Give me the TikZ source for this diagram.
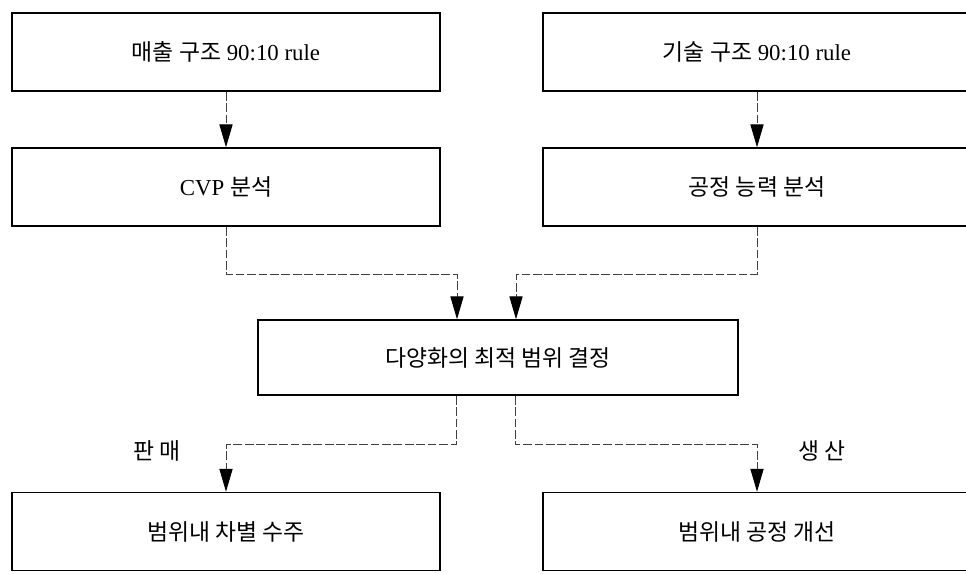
\documentclass[tikz,border=0pt]{standalone}
\usepackage{fontspec}
\setmainfont{Liberation Serif}
\newfontfamily\kr{Noto Sans CJK KR}
\usetikzlibrary{shapes, arrows.meta}
\tikzstyle{block} = [rectangle, minimum width=8.56cm, minimum height=1.56cm, text centered, draw=black, line width=0.9pt, font=\fontsize{13}{15}\selectfont]
\tikzstyle{mainbox} = [rectangle, minimum width=9.6cm, minimum height=1.5cm, text centered, draw=black, line width=0.9pt, font=\fontsize{13}{15}\selectfont]
\tikzstyle{tag} = [font=\kr\fontsize{13}{15}\selectfont]
\tikzstyle{edge} = [line width=0.5pt, draw=black!75, dash pattern=on 5pt off 1.5pt, -{Triangle[length=13pt, width=7.5pt, color=black]}]

\begin{document}
\begin{tikzpicture}[node distance=2.7cm]
\useasboundingbox (-4.52,1.04) rectangle (14.8,-10.42);

\node (sales) [block] {{\kr 매출 구조} 90:10 rule};
\node (tech) [block, right of=sales, xshift=7.92cm] {{\kr 기술 구조} 90:10 rule};
\node (cvp) [block, below of=sales] {CVP {\kr 분석}};
\node (cap) [block, below of=tech] {\kr 공정 능력 분석};
\node (range) [mainbox, below of=cvp, xshift=5.44cm, yshift=-0.71cm] {\kr 다양화의 최적 범위 결정};
\node (order) [block, below of=range, xshift=-5.44cm, yshift=-0.78cm] {\kr 범위내 차별 수주};
\node (improve) [block, below of=range, xshift=5.18cm, yshift=-0.78cm] {\kr 범위내 공정 개선};
\node (sell) [tag, above of=order, xshift=-1.38cm, yshift=-1.09cm] {판 매};
\node (make) [tag, above of=improve, xshift=1.3cm, yshift=-1.09cm] {생 산};

\coordinate (j1) at ([xshift=-0.82cm, yshift=0.9cm]range.north);
\coordinate (j2) at ([xshift=0.36cm, yshift=0.9cm]range.north);
\coordinate (in1) at ([xshift=-0.82cm]range.north);
\coordinate (in2) at ([xshift=0.36cm]range.north);
\coordinate (out1) at ([xshift=-0.84cm]range.south);
\coordinate (out2) at ([xshift=0.34cm]range.south);

\draw [edge] (sales) -- (cvp);
\draw [edge] (tech) -- (cap);
\draw [edge] (cvp) |- (j1) -- (in1);
\draw [edge] (cap) |- (j2) -- (in2);
\draw [edge] (out1) -- ++(0,-0.98) -| (order);
\draw [edge] (out2) -- ++(0,-0.98) -| (improve);

\end{tikzpicture}
\end{document}
